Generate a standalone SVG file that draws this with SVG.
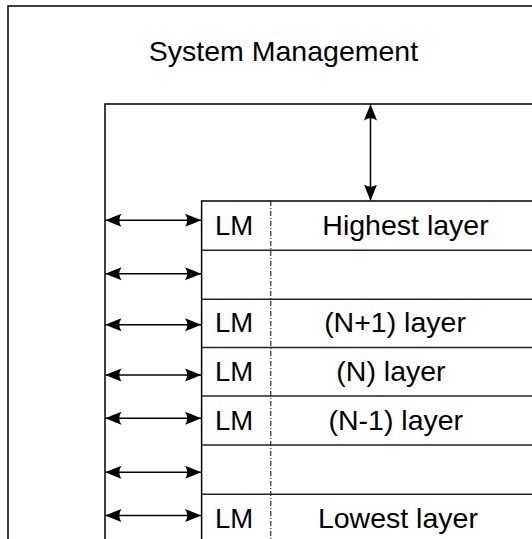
<svg xmlns="http://www.w3.org/2000/svg" width="532" height="539" viewBox="0 0 532 539">
<style>
.box{fill:none;stroke:#000;stroke-width:1.5}
.row{stroke:#222;stroke-width:1.5}
.dash{stroke:#000;stroke-width:1;stroke-dasharray:5 2 1 2}
.t{font-family:"Liberation Sans",Arial,Helvetica,sans-serif;font-size:28.5px;fill:#000}
.lm{font-family:"Liberation Sans",Arial,Helvetica,sans-serif;font-size:27.5px;fill:#000}
.c{stroke:#000;stroke-width:1.5;fill:none;marker-start:url(#ah);marker-end:url(#ah)}
</style>
<defs>
<marker id="ah" viewBox="0 0 16 14" refX="16" refY="7" markerWidth="16" markerHeight="14" markerUnits="userSpaceOnUse" orient="auto-start-reverse">
<path d="M16,7 Q8,3.5 0,0.5 Q4.5,7 0,13.5 Q8,10.5 16,7 Z" fill="#000"/>
</marker>
</defs>
<rect width="532" height="539" fill="#fff"/>
<g id="system-management">
<rect class="box" x="8" y="6" width="600" height="600"/>
<text class="t" x="283.5" y="61" text-anchor="middle">System Management</text>
</g>
<g id="layer-management">
<rect class="box" x="105" y="104" width="600" height="600"/>
</g>
<g id="layers">
<rect class="box" x="201.6" y="201" width="600" height="600"/>
<line class="dash" x1="270.8" y1="201" x2="270.8" y2="539"/>
<line class="row" x1="201.6" y1="250.3" x2="532" y2="250.3"/>
<line class="row" x1="201.6" y1="299.3" x2="532" y2="299.3"/>
<line class="row" x1="201.6" y1="347.5" x2="532" y2="347.5"/>
<line class="row" x1="201.6" y1="396" x2="532" y2="396"/>
<line class="row" x1="201.6" y1="445" x2="532" y2="445"/>
<line class="row" x1="201.6" y1="494.3" x2="532" y2="494.3"/>
</g>
<g id="highest-layer">
<text class="lm" x="215" y="235">LM</text>
<text class="t" x="405.5" y="235" text-anchor="middle">Highest layer</text>
</g>
<g id="n-plus-1-layer">
<text class="lm" x="215" y="332">LM</text>
<text class="t" x="395" y="332" text-anchor="middle">(N+1) layer</text>
</g>
<g id="n-layer">
<text class="lm" x="215" y="380.5">LM</text>
<text class="t" x="391" y="380.5" text-anchor="middle">(N) layer</text>
</g>
<g id="n-minus-1-layer">
<text class="lm" x="215" y="429.5">LM</text>
<text class="t" x="395.8" y="429.5" text-anchor="middle">(N-1) layer</text>
</g>
<g id="lowest-layer">
<text class="lm" x="215" y="527.5">LM</text>
<text class="t" x="397.9" y="527.5" text-anchor="middle">Lowest layer</text>
</g>
<g id="connectors">
<line class="c" x1="370.5" y1="104.5" x2="370.5" y2="200.5"/>
<line class="c" x1="105.5" y1="220.3" x2="201" y2="220.3"/>
<line class="c" x1="105.5" y1="273.7" x2="201" y2="273.7"/>
<line class="c" x1="105.5" y1="324.7" x2="201" y2="324.7"/>
<line class="c" x1="105.5" y1="375" x2="201" y2="375"/>
<line class="c" x1="105.5" y1="418.3" x2="201" y2="418.3"/>
<line class="c" x1="105.5" y1="472.3" x2="201" y2="472.3"/>
<line class="c" x1="105.5" y1="515.5" x2="201" y2="515.5"/>
</g>
</svg>
